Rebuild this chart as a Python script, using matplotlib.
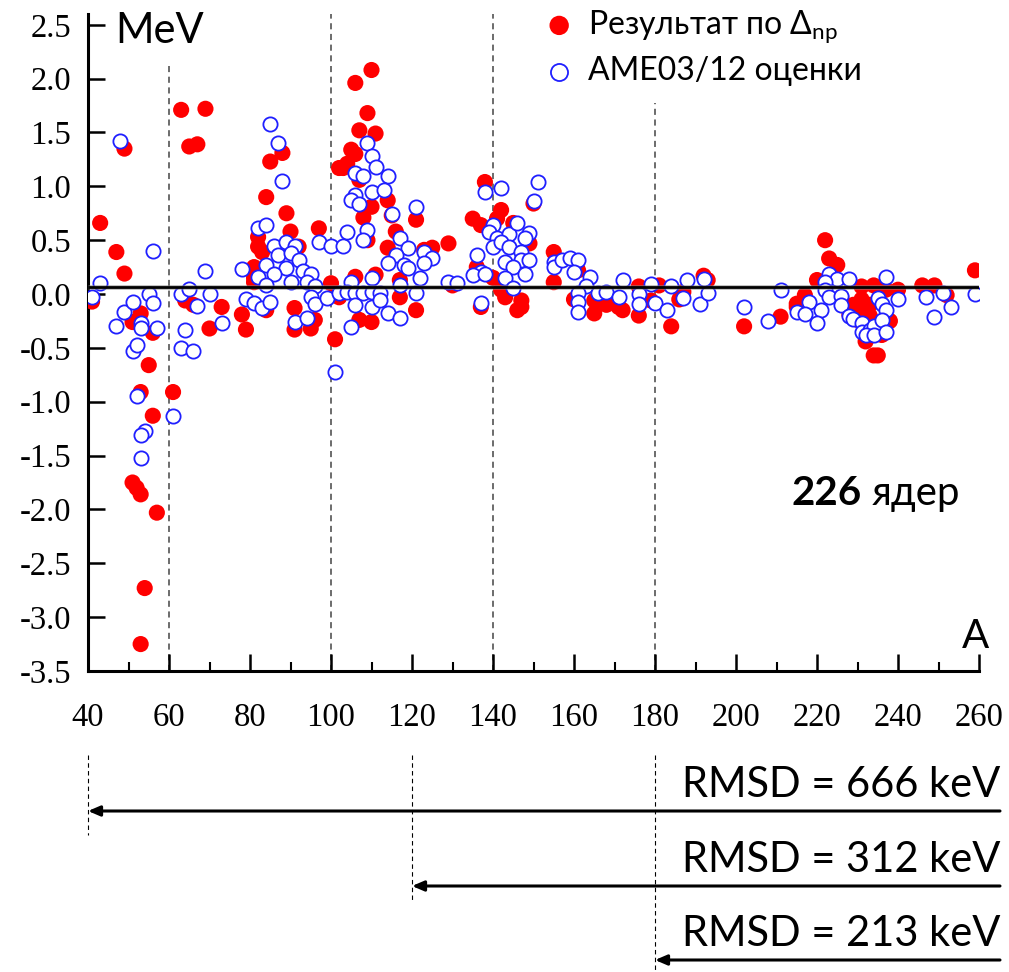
import matplotlib
matplotlib.use("Agg")
import matplotlib.pyplot as plt
from matplotlib.ticker import MultipleLocator

plt.rcParams['mathtext.fontset'] = 'custom'
plt.rcParams['mathtext.rm'] = 'Lato'
plt.rcParams['mathtext.it'] = 'Lato:italic'

# ---------------- data ----------------
red_A = [41, 43, 47, 49, 49, 53, 51, 56, 55, 53, 56, 51, 52, 53, 57, 54, 53,
         61, 63, 69, 65, 67, 64, 66, 70, 73, 78, 79,
         85, 88, 84, 89, 90, 97, 82, 82, 83, 81, 84, 91, 91, 95, 96, 92, 100, 81, 81,
         101, 109, 107, 111, 105, 106, 103, 102, 110, 106, 110, 114, 108, 109, 115, 116,
         121, 114, 123, 117, 117, 121, 106, 107, 110, 111, 102, 104, 107,
         129, 135, 137, 138, 136, 130, 137, 140, 125,
         142, 141, 145, 150, 149, 155, 155, 161, 142, 143, 147, 147, 146, 160,
         165, 165, 168, 171, 168, 172, 176, 176, 179, 181,
         184, 186, 187, 192, 193, 202, 211, 215, 215, 217,
         220, 222, 223, 225, 226, 228, 231, 231, 231, 230, 232, 234, 235, 234, 237,
         240, 236, 246, 249, 252, 259, 229, 233, 233, 236, 232, 238]
red_val = [-0.07, 0.66, 0.39, 0.19, 1.35, -0.18, -0.26, -0.36, -0.66, -0.91, -1.13,
           -1.75, -1.80, -1.86, -2.03, -2.73, -3.25,
           -0.91, 1.71, 1.72, 1.37, 1.39, -0.06, -0.10, -0.32, -0.12, -0.19, -0.33,
           1.23, 1.31, 0.90, 0.75, 0.58, 0.61, 0.53, 0.44, 0.39, 0.25, -0.15, -0.13,
           -0.33, -0.32, -0.24, 0.44, 0.10, 0.11, 0.15,
           -0.42, 1.68, 1.52, 1.49, 1.34, 1.30, 1.17, 1.17, 2.08, 1.96, 0.81, 0.87,
           0.71, 0.50, 0.73, 0.58, 0.69, 0.43, 0.41, 0.13, -0.03, -0.15, 0.16, -0.24,
           -0.26, 0.18, -0.03, 1.21, 1.06,
           0.47, 0.70, 0.64, 1.04, 0.25, 0.08, -0.12, 0.15, 0.43,
           0.78, 0.70, 0.66, 0.84, 0.47, 0.39, 0.11, 0.22, 0.04, -0.03, -0.06, -0.12,
           -0.15, -0.05,
           -0.06, -0.18, -0.08, -0.12, -0.10, -0.15, -0.20, 0.07, -0.06, 0.08,
           -0.30, -0.05, 0.02, 0.17, 0.13, -0.30, -0.21, -0.09, -0.12, -0.01,
           0.13, 0.50, 0.33, 0.27, -0.03, -0.19, 0.07, -0.05, -0.15, -0.24, -0.44,
           -0.57, -0.57, 0.08, 0.04,
           0.04, -0.38, 0.08, 0.08, -0.01, 0.22, -0.10, -0.20, -0.10, -0.30, -0.30, -0.25]

blue_A = [41, 43, 48, 56, 49, 51, 47, 53, 53, 55, 56, 57, 51, 52, 52, 61, 54, 53, 53,
          63, 66, 63, 65, 67, 70, 69, 73, 64, 78, 79, 81, 83, 85,
          85, 87, 88, 82, 84, 86, 89, 91, 87, 90, 92, 84, 89, 86, 82, 93, 95, 84, 90,
          94, 96, 95, 96, 99, 91, 94, 97, 100, 101,
          103, 104, 109, 108, 109, 110, 111, 106, 108, 114, 110, 113, 106, 105, 107,
          115, 121, 117, 119, 116, 114, 118, 119, 123, 125, 122, 110, 105, 102, 104,
          106, 108, 110, 112, 106, 110, 112, 114, 117, 105, 117, 121,
          123, 129, 131, 136, 138, 142, 140, 139, 141, 137, 135, 138, 137, 140,
          151, 150, 144, 146, 149, 148, 142, 144, 147, 147, 149, 143, 145, 148, 143,
          145, 155, 155, 157, 159, 161, 160,
          164, 163, 161, 161, 166, 168, 161, 171, 172, 176, 176, 179, 180,
          183, 184, 187, 188, 191, 192, 193, 202, 211, 208, 215,
          223, 225, 228, 222, 222, 223, 226, 218, 221, 217, 220, 226, 228, 229, 231,
          231, 233, 234, 232, 234, 235, 236, 237, 236, 237, 237, 240, 247, 251, 249,
          253, 259]
blue_val = [-0.03, 0.10, 1.42, 0.40, -0.17, -0.07, -0.30, -0.27, -0.32, 0.00, -0.08,
            -0.32, -0.53, -0.47, -0.95, -1.13, -1.27, -1.31, -1.52,
            -0.50, -0.53, 0.00, 0.05, -0.11, 0.00, 0.21, -0.27, -0.33, 0.23, -0.05,
            -0.08, -0.13, -0.07,
            1.58, 1.40, 1.05, 0.61, 0.64, 0.45, 0.48, 0.45, 0.36, 0.38, 0.32, 0.27,
            0.24, 0.19, 0.16, 0.21, 0.19, 0.08, 0.11, 0.11, 0.07, -0.03, -0.09, -0.04,
            -0.26, -0.22, 0.48, 0.45, -0.72,
            0.45, 0.58, 0.59, 0.50, 1.40, 1.28, 1.18, 1.12, 1.10, 1.10, 0.95, 0.97,
            0.92, 0.87, 0.84, 0.74, 0.81, 0.52, 0.43, 0.36, 0.29, 0.27, 0.24, 0.39,
            0.33, 0.15, 0.15, 0.11, 0.01, 0.02, 0.01, 0.01, 0.02, 0.01, -0.10, -0.12,
            -0.06, -0.18, -0.22, -0.31, 0.08, 0.01,
            0.29, 0.11, 0.10, 0.36, 0.95, 0.98, 0.64, 0.58, 0.52, 0.20, 0.18, 0.19,
            -0.08, 0.44,
            1.04, 0.86, 0.56, 0.66, 0.57, 0.52, 0.48, 0.44, 0.39, 0.32, 0.32, 0.30,
            0.25, 0.19, 0.15, 0.06, 0.30, 0.25, 0.32, 0.33, 0.32, 0.20,
            0.16, 0.07, 0.01, -0.07, 0.01, 0.02, -0.17, -0.03, 0.13, 0.00, -0.09,
            0.09, -0.08,
            -0.15, 0.07, -0.04, 0.13, -0.09, 0.14, 0.01, -0.12, 0.04, -0.25, -0.17,
            0.19, 0.14, 0.14, 0.11, 0.04, -0.03, -0.02, -0.07, -0.15, -0.19, -0.27,
            -0.10, -0.20, -0.23, -0.27, -0.35, -0.33, -0.30, -0.38, -0.38, -0.04,
            -0.09, -0.15, -0.24, 0.16, -0.35, -0.05, -0.03, 0.01, -0.21, -0.12, 0.00]

x_ticks = list(range(40, 261, 20))
y_ticks = [2.5, 2.0, 1.5, 1.0, 0.5, 0.0, -0.5, -1.0, -1.5, -2.0, -2.5, -3.0, -3.5]
ref_line = 0.065
div_A = [60, 100, 140, 180]
div_top = [2.15, 2.6, 2.6, 1.77]
rmsd_from = [40, 120, 180]
rmsd_keV = [666, 312, 213]
n_nuclei = 226

# ---------------- figure ----------------
W, H = 1009, 972
fig = plt.figure(figsize=(W / 100, H / 100), dpi=100)
ax = fig.add_axes([88 / W, 1 - 671 / H, (979 - 88) / W, (671 - 14) / H])

ax.set_xlim(40, 260)
ax.set_ylim(-3.5, 2.6)

for a, t in zip(div_A, div_top):
    ax.plot([a, a], [-3.5, t], ls=(0, (4, 3)), color='#444444', lw=1.1, zorder=1)

sc_r = ax.scatter(red_A, red_val, s=135, c='#ff0000', edgecolors='none', zorder=3,
                  label='Результат по Δ$_\\mathregular{np}$')
sc_b = ax.scatter(blue_A, blue_val, s=105, facecolors='white', edgecolors='#1f1fff',
                  linewidths=1.3, zorder=4, label='AME03/12 оценки')

ax.plot([40, 260], [ref_line, ref_line], color='#888888', lw=3.6, alpha=0.5, zorder=5,
        solid_capstyle='butt')
ax.plot([40, 260], [ref_line, ref_line], color='black', lw=2.0, zorder=6,
        solid_capstyle='butt')

for s in ['top', 'right']:
    ax.spines[s].set_visible(False)
for s in ['left', 'bottom']:
    ax.spines[s].set_linewidth(2.2)

ax.set_xticks(x_ticks)
ax.xaxis.set_minor_locator(MultipleLocator(10))
ax.set_yticks(y_ticks)
ax.set_yticklabels([f'{v:.1f}' for v in y_ticks])
ax.tick_params(axis='both', which='major', direction='in', length=12, width=1.8,
               labelsize=23.5)
ax.tick_params(axis='x', which='major', pad=23)
ax.tick_params(axis='y', which='major', pad=12)
ax.tick_params(axis='x', which='minor', direction='in', length=6.5, width=1.5)
for lab in ax.get_xticklabels() + ax.get_yticklabels():
    lab.set_fontfamily('Liberation Serif')

leg = ax.legend(handles=[sc_r, sc_b], loc='upper left',
                bbox_to_anchor=(540 / W, 1 - 8 / H), bbox_transform=fig.transFigure,
                frameon=False, prop={'family': 'Lato', 'size': 23},
                handletextpad=0.3, labelspacing=0.35, borderaxespad=0,
                handlelength=1.2, borderpad=0, markerscale=1.2)

fig.text(115 / W, 1 - 43 / H, 'MeV', family='Lato', fontsize=30, va='baseline')
fig.text(862 / W, 1 - 505 / H, f'{n_nuclei}', family='Lato', fontsize=29,
         fontweight='bold', ha='right', va='baseline')
fig.text(872 / W, 1 - 505 / H, 'ядер', family='Lato', fontsize=29, ha='left',
         va='baseline')
fig.text(976 / W, 1 - 648 / H, 'A', family='Lato', fontsize=29, ha='center',
         va='baseline')

# ---------------- lower RMSD panel ----------------
ax2 = fig.add_axes([88 / W, 0, (979 - 88) / W, 243 / H])
ax2.set_xlim(40, 260)
ax2.set_ylim(0, 243)
ax2.axis('off')

arrow_y = [972 - 811, 972 - 886, 972 - 960]
text_y = [972 - 797, 972 - 872, 972 - 946]
dash_bottom = [972 - 835, 972 - 900, 0]
tail_A = 40 + (1000 - 88) / ((979 - 88) / 220)
for a, k, ay, ty, db in zip(rmsd_from, rmsd_keV, arrow_y, text_y, dash_bottom):
    ax2.plot([a, a], [972 - 755, db], ls=(0, (4, 3)), color='black', lw=0.8,
             clip_on=False)
    ax2.annotate('', xy=(a, ay), xytext=(tail_A, ay),
                 arrowprops=dict(arrowstyle='-|>,head_length=0.7,head_width=0.3',
                                 color='black', lw=2.2, shrinkA=0, shrinkB=0),
                 annotation_clip=False)
    ax2.text(tail_A, ty, f'RMSD = {k} keV', family='Lato', fontsize=30,
             ha='right', va='baseline', clip_on=False)

fig.savefig('out.png', dpi=100)
